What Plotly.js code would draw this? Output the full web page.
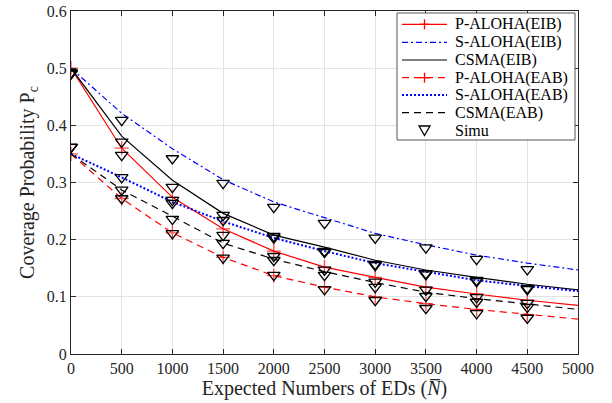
<!DOCTYPE html>
<html>
<head>
<meta charset="utf-8">
<script src="https://cdn.plot.ly/plotly-3.0.1.min.js"></script>
<style>
  html, body { margin: 0; padding: 0; background: #fff; }
  #chart { width: 612px; height: 403px; }
</style>
</head>
<body>
<div id="chart"></div>
<script>
// Expected number of EDs (analytical curves sampled every 500)
const edCounts = [0, 500, 1000, 1500, 2000, 2500, 3000, 3500, 4000, 4500, 5000];
// Simulation points
const simuCounts = [0, 500, 1000, 1500, 2000, 2500, 3000, 3500, 4000, 4500];

// Analytical coverage probability
const pAlohaEIB = [0.500, 0.360, 0.274, 0.219, 0.180, 0.152, 0.134, 0.117, 0.105, 0.094, 0.085];
const sAlohaEIB = [0.500, 0.421, 0.359, 0.305, 0.266, 0.239, 0.211, 0.191, 0.173, 0.159, 0.147];
const csmaEIB   = [0.500, 0.381, 0.304, 0.246, 0.208, 0.187, 0.164, 0.147, 0.134, 0.122, 0.112];
const pAlohaEAB = [0.350, 0.272, 0.212, 0.169, 0.137, 0.117, 0.100, 0.088, 0.078, 0.069, 0.061];
const sAlohaEAB = [0.350, 0.309, 0.266, 0.232, 0.203, 0.180, 0.159, 0.144, 0.129, 0.119, 0.110];
const csmaEAB   = [0.350, 0.287, 0.241, 0.194, 0.166, 0.144, 0.125, 0.108, 0.097, 0.087, 0.078];

// Simulated coverage probability
const simuPAlohaEIB = [0.492, 0.348, 0.269, 0.208, 0.171, 0.147, 0.126, 0.112, 0.099, 0.089];
const simuSAlohaEIB = [0.492, 0.409, 0.342, 0.299, 0.257, 0.229, 0.203, 0.186, 0.166, 0.148];
const simuCsmaEIB   = [0.490, 0.371, 0.292, 0.243, 0.206, 0.180, 0.157, 0.141, 0.129, 0.115];
const simuPAlohaEAB = [0.362, 0.272, 0.211, 0.168, 0.138, 0.113, 0.094, 0.080, 0.071, 0.063];
const simuSAlohaEAB = [0.362, 0.309, 0.264, 0.234, 0.203, 0.178, 0.155, 0.139, 0.127, 0.113];
const simuCsmaEAB   = [0.362, 0.287, 0.236, 0.194, 0.164, 0.138, 0.117, 0.101, 0.091, 0.082];

const seriesNames = ['P-ALOHA(EIB)', 'S-ALOHA(EIB)', 'CSMA(EIB)', 'P-ALOHA(EAB)', 'S-ALOHA(EAB)', 'CSMA(EAB)'];
const simuName = 'Simu';

const xTicks = [0, 500, 1000, 1500, 2000, 2500, 3000, 3500, 4000, 4500, 5000];
const yTicks = [0, 0.1, 0.2, 0.3, 0.4, 0.5, 0.6];

const RED = '#ff0000', BLUE = '#0000ff', BLACK = '#000000';
const FONT = 'Liberation Serif, Times New Roman, serif';

// line styles per series: [colour, dash, width, cross markers]
const styles = [
  [RED,   'solid',           1.2, true],
  [BLUE,  '6px,3px,2px,3px', 1.2, false],
  [BLACK, 'solid',           1.2, false],
  [RED,   '7px,5px',         1.2, true],
  [BLUE,  '2px,2px',         2.0, false],
  [BLACK, '7px,5px',         1.2, false]
];
const analytic = [pAlohaEIB, sAlohaEIB, csmaEIB, pAlohaEAB, sAlohaEAB, csmaEAB];
const simulated = [simuPAlohaEIB, simuSAlohaEIB, simuCsmaEIB, simuPAlohaEAB, simuSAlohaEAB, simuCsmaEAB];

const traces = [];
analytic.forEach(function (ys, i) {
  const st = styles[i];
  const t = {
    x: edCounts, y: ys, name: seriesNames[i], type: 'scatter',
    mode: st[3] ? 'lines+markers' : 'lines', showlegend: false,
    line: { color: st[0], dash: st[1], width: st[2] }
  };
  if (st[3]) {
    // crosses on every sample except the right border
    t.marker = {
      symbol: 'cross-thin-open',
      size: edCounts.map(function (v, k) { return k === edCounts.length - 1 ? 0 : 10; }),
      color: st[0], line: { color: st[0], width: 1.3 }
    };
  }
  traces.push(t);
});
simulated.forEach(function (ys) {
  traces.push({
    x: simuCounts, y: ys, name: simuName, type: 'scatter', mode: 'markers', showlegend: false,
    marker: { symbol: 'triangle-down-open', size: 11, color: BLACK, line: { color: BLACK, width: 1.3 } }
  });
});

// Legend box drawn in pixels from the top-right corner of the plot area
const shapes = [];
const annotations = [];
function px(extra) {
  return Object.assign({ xref: 'paper', yref: 'paper', xsizemode: 'pixel', ysizemode: 'pixel',
    xanchor: 1, yanchor: 1, layer: 'above' }, extra);
}
shapes.push(px({ type: 'rect', x0: -181, x1: -3, y0: -2, y1: -129,
  fillcolor: '#ffffff', line: { color: '#555555', width: 1 } }));
const rowY = [-13.3, -31.3, -49, -66.7, -84, -101.7, -119];
const symX0 = -176, symX1 = -131, symXc = -153.5, textX = -125;
seriesNames.forEach(function (name, i) {
  const st = styles[i];
  shapes.push(px({ type: 'line', x0: symX0, x1: symX1, y0: rowY[i], y1: rowY[i],
    line: { color: st[0], dash: st[1], width: st[2] } }));
  if (st[3]) {
    shapes.push(px({ type: 'line', x0: symXc - 5, x1: symXc + 5, y0: rowY[i], y1: rowY[i],
      line: { color: st[0], width: 1.3 } }));
    shapes.push(px({ type: 'line', x0: symXc, x1: symXc, y0: rowY[i] - 5, y1: rowY[i] + 5,
      line: { color: st[0], width: 1.3 } }));
  }
  annotations.push({ xref: 'paper', yref: 'paper', x: 1, y: 1, xanchor: 'left', yanchor: 'middle',
    xshift: textX, yshift: rowY[i], text: name, showarrow: false,
    font: { family: FONT, size: 16, color: BLACK } });
});
const ty = rowY[6];
shapes.push(px({ type: 'path', path: 'M' + (symXc - 5.5) + ',' + (ty + 4) + ' L' + (symXc + 5.5) + ',' + (ty + 4) +
  ' L' + symXc + ',' + (ty - 5.5) + ' Z', line: { color: BLACK, width: 1.3 } }));
annotations.push({ xref: 'paper', yref: 'paper', x: 1, y: 1, xanchor: 'left', yanchor: 'middle',
  xshift: textX, yshift: ty, text: simuName, showarrow: false,
  font: { family: FONT, size: 16, color: BLACK } });

const axisCommon = {
  ticks: 'inside', ticklen: 5, tickwidth: 1, tickcolor: '#262626',
  showline: true, linecolor: '#262626', linewidth: 1, mirror: 'ticks',
  showgrid: true, gridcolor: '#e3e3e3', gridwidth: 1, zeroline: false,
  tickfont: { family: FONT, size: 16, color: '#262626' }
};

const layout = {
  width: 612, height: 403,
  margin: { l: 71, r: 34, t: 11, b: 49 },
  paper_bgcolor: '#ffffff', plot_bgcolor: '#ffffff',
  font: { family: FONT, size: 16, color: '#262626' },
  showlegend: false,
  xaxis: Object.assign({}, axisCommon, {
    range: [0, 5000], tickvals: xTicks, ticktext: xTicks.map(String),
    title: { text: 'Expected Numbers of EDs (<i>N\u0305</i>)',
      font: { family: FONT, size: 20, color: '#262626' }, standoff: 2 }
  }),
  yaxis: Object.assign({}, axisCommon, {
    range: [0, 0.6], tickvals: yTicks, ticktext: yTicks.map(String),
    title: { text: 'Coverage Probability P<sub>c</sub>',
      font: { family: FONT, size: 20, color: '#262626' }, standoff: 6 }
  }),
  shapes: shapes,
  annotations: annotations
};

Plotly.newPlot('chart', traces, layout, { displayModeBar: false, staticPlot: true });
</script>
</body>
</html>
